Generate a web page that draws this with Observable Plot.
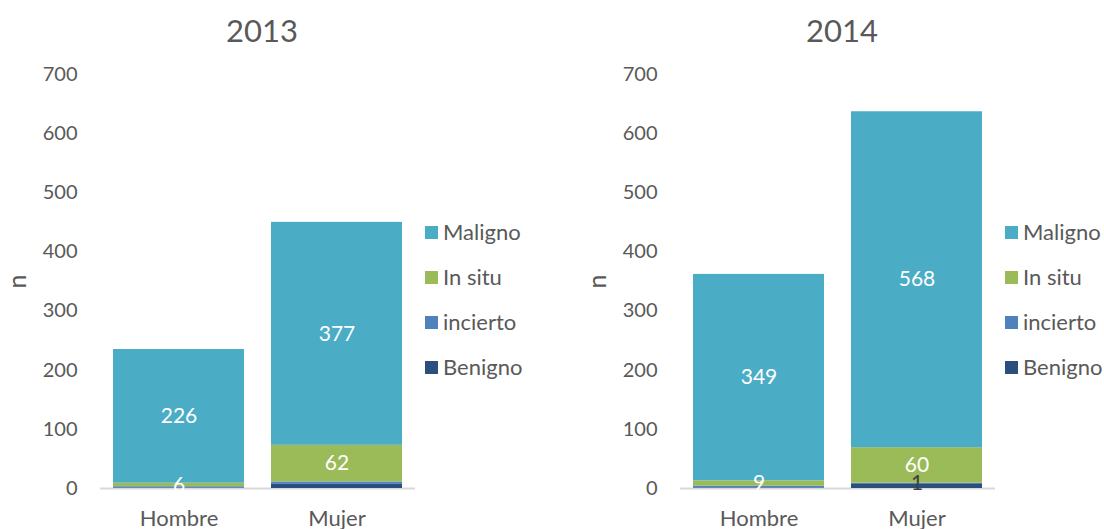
<!DOCTYPE html>
<html>
<head>
<meta charset="utf-8">
<script src="https://cdn.jsdelivr.net/npm/d3@7"></script>
<script src="https://cdn.jsdelivr.net/npm/@observablehq/plot@0.6"></script>
<style>
  html, body { margin: 0; padding: 0; background: #fff; }
  #root { position: relative; width: 1104px; height: 529px; overflow: hidden; font-family: Lato, "Open Sans", sans-serif; color: #595959; }
  .panel { position: absolute; top: 0; }
  .title { position: absolute; top: 10px; font-size: 31px; text-align: center; width: 200px; line-height: 40px; }
  .legend { position: absolute; font-size: 22px; }
  .legend .item { position: absolute; left: 0; height: 26px; line-height: 26px; white-space: nowrap; }
  .legend .sw { display: inline-block; width: 13px; height: 13px; vertical-align: middle; margin-right: 5px; position: relative; top: -2px; }
</style>
</head>
<body>
<div id="root"></div>
<script>
// ---- data ----
const years = ["2013", "2014"];
const sexes = ["Hombre", "Mujer"];
const types = ["Benigno", "incierto", "In situ", "Maligno"];
const legendOrder = ["Maligno", "In situ", "incierto", "Benigno"];
const colors = ["#2A4F7E", "#4F81BD", "#9BBB59", "#4BACC6"];
const yTicks = [0, 100, 200, 300, 400, 500, 600, 700];

// values per sex: [Hombre, Mujer]
const benigno2013 = [1, 7];
const incierto2013 = [2, 4];
const insitu2013 = [6, 62];
const maligno2013 = [226, 377];

const benigno2014 = [1, 8];
const incierto2014 = [3, 1];
const insitu2014 = [9, 60];
const maligno2014 = [349, 568];

// which value labels are displayed (type per sex)
const shown2013 = [["In situ", "Maligno"], ["In situ", "Maligno"]];
const shown2014 = [["In situ", "Maligno"], ["incierto", "In situ", "Maligno"]];
const darkLabels = ["incierto"];

function buildRows(series, shown) {
  const rows = [];
  sexes.forEach((sex, i) => {
    types.forEach((type, t) => {
      const value = series[t][i];
      rows.push({sex, type, value, show: shown[i].includes(type)});
    });
  });
  return rows;
}

const data2013 = buildRows([benigno2013, incierto2013, insitu2013, maligno2013], shown2013);
const data2014 = buildRows([benigno2014, incierto2014, insitu2014, maligno2014], shown2014);

function panel(data, width) {
  return Plot.plot({
    width,
    height: 529,
    marginTop: 74,
    marginBottom: 41,
    marginLeft: 100,
    marginRight: width - 415,
    style: {fontFamily: "Lato, 'Open Sans', sans-serif", fontSize: "20px", color: "#595959", background: "transparent", overflow: "visible"},
    x: {domain: sexes, paddingInner: 0.17, paddingOuter: 0.08, label: null},
    y: {domain: [0, 700], label: "n"},
    color: {domain: types, range: colors},
    marks: [
      Plot.ruleY([0], {stroke: "#D9D9D9", strokeWidth: 2}),
      Plot.barY(data, {x: "sex", y: "value", fill: "type", z: "type"}),
      Plot.text(data, Plot.stackY({
        x: "sex", y: "value", z: "type",
        text: d => (d.show && !darkLabels.includes(d.type)) ? String(d.value) : "",
        fill: "white", fontSize: 21
      })),
      Plot.text(data, Plot.stackY({
        x: "sex", y: "value", z: "type",
        text: d => (d.show && darkLabels.includes(d.type)) ? String(d.value) : "",
        fill: "#404040", fontSize: 21
      })),
      Plot.axisY({ticks: yTicks, tickSize: 0, tickPadding: 23, label: null, fontSize: 20}),
      Plot.axisY({ticks: [], tickSize: 0, label: "n", labelAnchor: "center", labelArrow: "none", labelOffset: 92, fontSize: 25}),
      Plot.axisX({tickSize: 0, tickPadding: 22, fontSize: 22, label: null})
    ]
  });
}

const root = document.getElementById("root");
const widths = [580, 524];
const offsets = [0, 580];
[data2013, data2014].forEach((data, k) => {
  const wrap = document.createElement("div");
  wrap.className = "panel";
  wrap.style.left = offsets[k] + "px";
  wrap.appendChild(panel(data, widths[k]));
  root.appendChild(wrap);

  const title = document.createElement("div");
  title.className = "title";
  title.textContent = years[k];
  title.style.left = (offsets[k] + 262 - 100) + "px";
  root.appendChild(title);

  const legend = document.createElement("div");
  legend.className = "legend";
  legend.style.left = (offsets[k] + 425) + "px";
  legend.style.top = "0px";
  legendOrder.forEach((type, i) => {
    const item = document.createElement("div");
    item.className = "item";
    item.style.top = (232 - 13 + i * 45) + "px";
    const sw = document.createElement("span");
    sw.className = "sw";
    sw.style.background = colors[types.indexOf(type)];
    item.appendChild(sw);
    item.appendChild(document.createTextNode(type));
    legend.appendChild(item);
  });
  root.appendChild(legend);
});
</script>
</body>
</html>
